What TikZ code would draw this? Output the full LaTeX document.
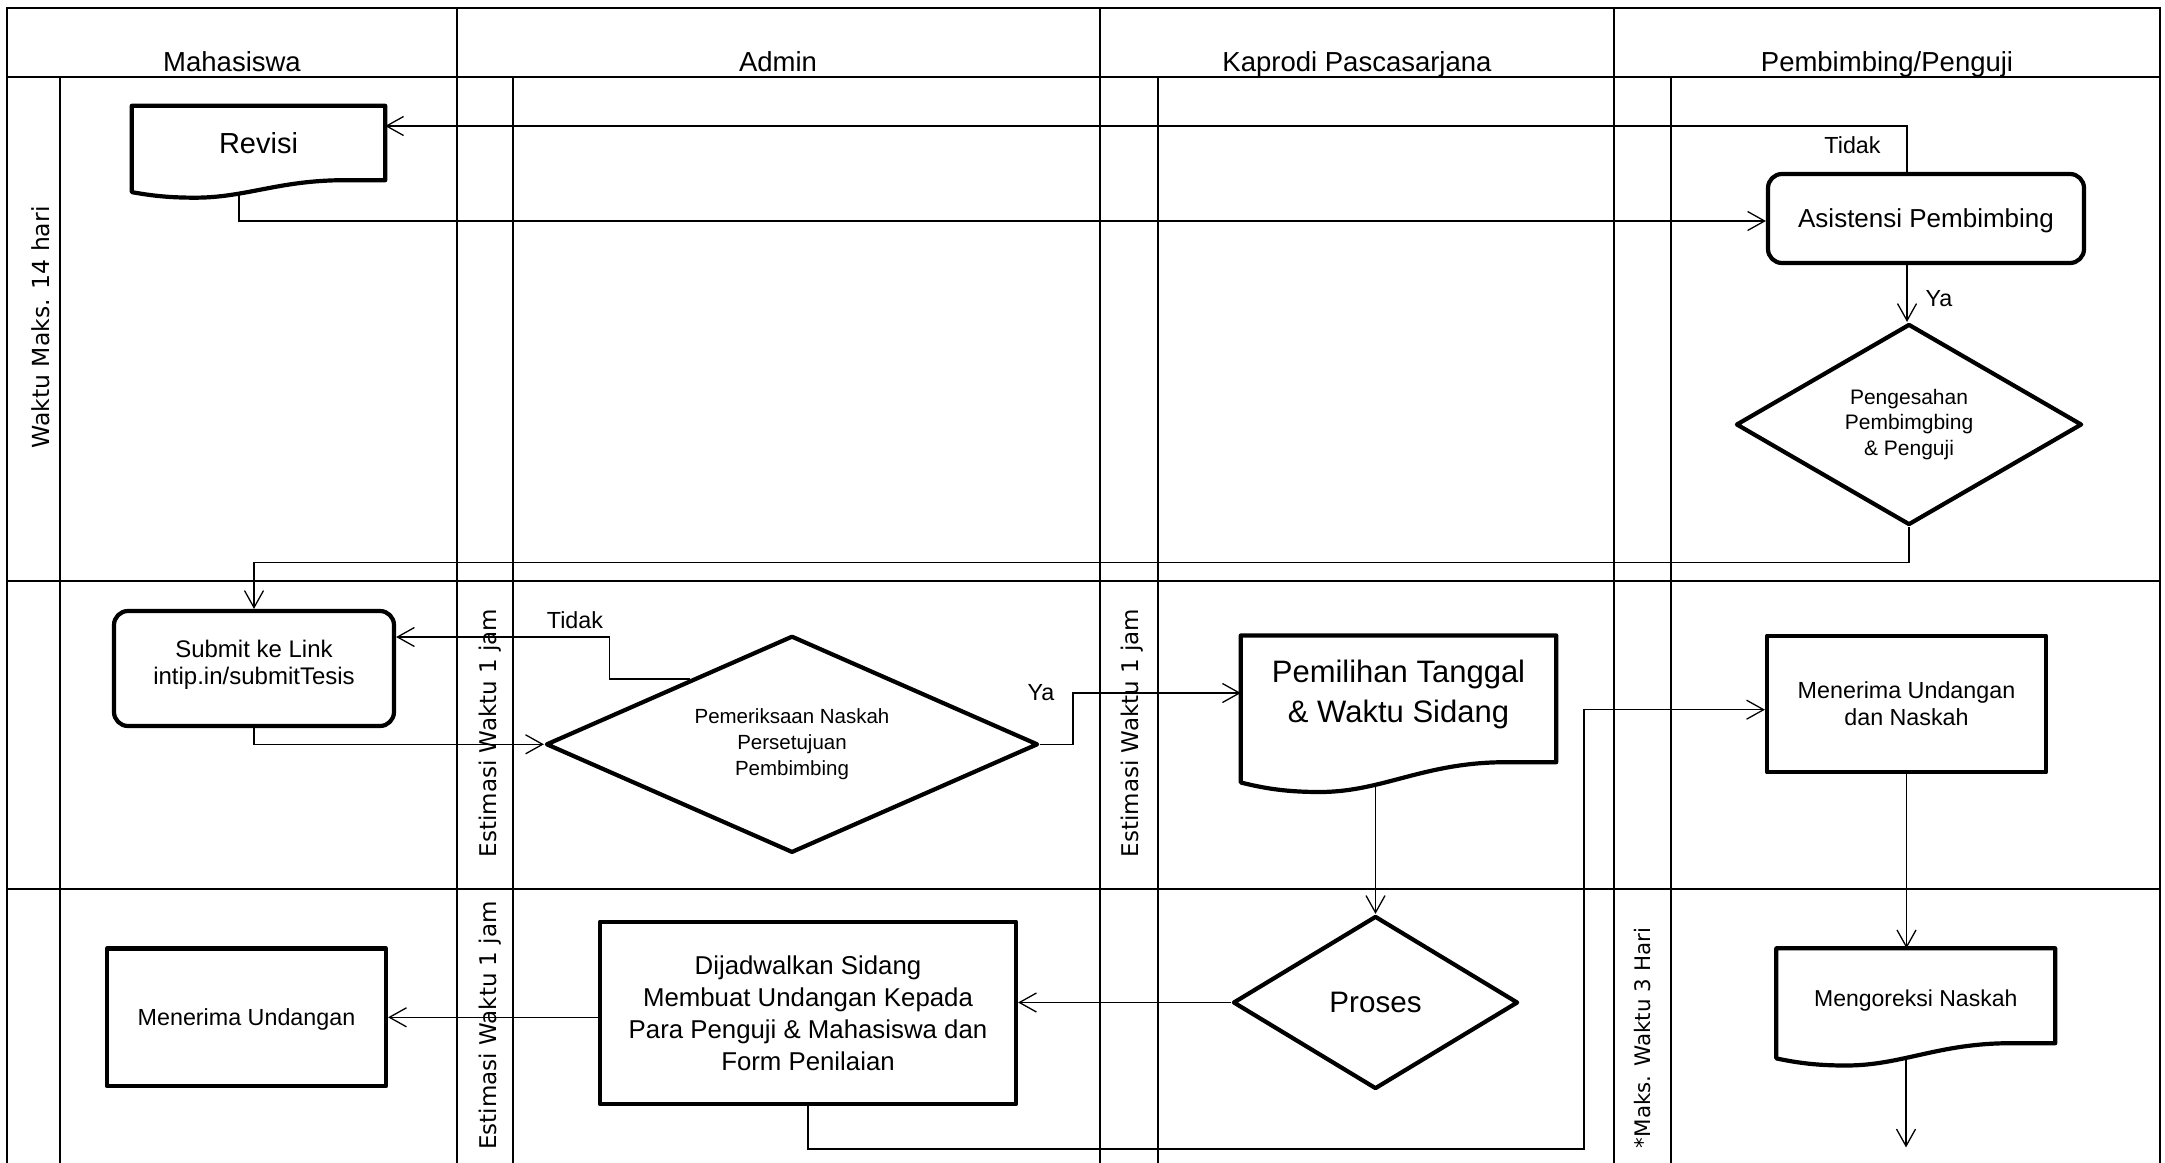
\documentclass[tikz,border=0pt]{standalone}
\usepackage{fontspec}
\setmainfont{Liberation Sans}
\newfontfamily\vfont{DejaVu Sans}
\usetikzlibrary{arrows.meta,shapes.geometric,calc}
\pgfdeclarelayer{bg}
\pgfdeclarelayer{mid}
\pgfsetlayers{bg,mid,main}
\newcommand\fsz[2]{\fontsize{#1pt}{#2pt}\selectfont}
\newcommand\docoutline[1]{%
  \draw[docline] let \p1=(#1.north west), \p2=(#1.south east), \n1={\x2-\x1}, \n2={\y1-\y2} in
  (\x2,\y2) -- (\x2,\y1) -- (\x1,\y1) -- (\x1,{\y2-0.16*\n2})
  .. controls ({\x1+0.08*\n1},{\y2-0.21*\n2}) and ({\x1+0.15*\n1},{\y2-0.235*\n2}) .. ({\x1+0.25*\n1},{\y2-0.235*\n2})
  .. controls ({\x1+0.45*\n1},{\y2-0.235*\n2}) and ({\x1+0.58*\n1},{\y2}) .. ({\x1+0.84*\n1},{\y2}) -- cycle;}
\begin{document}
\begin{tikzpicture}[x=1pt,y=-1pt,
  grid/.style={line width=2pt, line cap=rect},
  conn/.style={line width=1.3pt, -{Straight Barb[length=17pt,width=19pt]}},
  box/.style={draw, line width=4.2pt, fill=white, line join=round, inner sep=0pt, align=center},
  rbox/.style={box, rounded corners=14pt},
  dbox/.style={box, diamond},
  docbox/.style={inner sep=0pt, align=center},
  docline/.style={draw, line width=4.2pt, fill=white, line join=round},
  hdr/.style={inner sep=0pt, font={\fsz{27.5}{33}}},
  lbl/.style={inner sep=0pt, font={\fsz{23.3}{28}}},
  vtxt/.style={inner sep=0pt, rotate=90, font={\vfont\fsz{23}{28}}}
]
\useasboundingbox (0,0) rectangle (2165,1162);

% headers
\node[hdr, anchor=base] (hmah) at (232,71) {Mahasiswa};
\node[hdr, anchor=base] (hadm) at (778,71) {Admin};
\node[hdr, anchor=base] (hkap) at (1357,71) {Kaprodi Pascasarjana};
\node[hdr, anchor=base] (hpem) at (1887,71) {Pembimbing/Penguji};

% vertical texts
\node[vtxt, font={\vfont\fsz{23.5}{28}}] (w14) at (41,327.5) {Waktu Maks. 14 hari};
\node[vtxt] (est1) at (490,733) {Estimasi Waktu 1 jam};
\node[vtxt] (est2) at (1132.5,733) {Estimasi Waktu 1 jam};
\node[vtxt] (est3) at (490,1025.5) {Estimasi Waktu 1 jam};
\node[vtxt, font={\vfont\fsz{21.4}{26}}] (maks3) at (1642,1038) {*Maks. Waktu 3 Hari};

% shapes
\node[docbox, minimum width=253, minimum height=74, font={\fsz{29}{35}}] (revisi) at (258.5,143) {Revisi};
\node[rbox, minimum width=316, minimum height=89, text depth=0pt, font={\fsz{26}{31}}] (asist) at (1926,218.5) {Asistensi Pembimbing};
\node[dbox, aspect=1.72, minimum width=346, minimum height=201, font={\fsz{21}{25.8}}] (peng) at (1909,424.5) {Pengesahan\\Pembimgbing\\\& Penguji};
\node[rbox, minimum width=280, minimum height=115] (submit) at (254,668.5) {};
\node[inner sep=0pt, align=center, font={\fsz{24}{27.5}}] (submitt) at (254,665) {Submit ke Link\\intip.in/submitTesis};
\node[dbox, aspect=2.27, minimum width=492, minimum height=217, font={\fsz{20.5}{26}}] (pem) at (792,744.3) {Pemeriksaan Naskah\\Persetujuan\\Pembimbing};
\node[docbox, minimum width=315, minimum height=126.4] (pemil) at (1398.5,698.8) {};
\node[inner sep=0pt, align=center, font={\fsz{31}{40}}] (pemilt) at (1398.5,694) {Pemilihan Tanggal\\\& Waktu Sidang};
\node[box, minimum width=279, minimum height=136.7, font={\fsz{23.3}{27}}] (mun) at (1906.5,704) {Menerima Undangan\\dan Naskah};
\node[box, minimum width=279, minimum height=137.5, text depth=0pt, font={\fsz{23.3}{28}}] (mu) at (246.5,1017.3) {Menerima Undangan};
\node[box, minimum width=416, minimum height=182.4, font={\fsz{25.8}{32}}] (dij) at (808,1012.8) {Dijadwalkan Sidang\\Membuat Undangan Kepada\\Para Penguji \& Mahasiswa dan\\Form Penilaian};
\node[dbox, aspect=1.65, minimum width=285, minimum height=173, font={\fsz{29.6}{35}}] (proses) at (1375.5,1002.5) {Proses};
\node[docbox, minimum width=278.5, minimum height=94.5] (mengo) at (1915.75,995.75) {};
\node[inner sep=0pt, font={\fsz{23}{28}}] (mengot) at (1915.75,1001) {Mengoreksi Naskah};

% labels
\node[lbl] (tidak1) at (1852.5,145.4) {Tidak};
\node[lbl] (ya1) at (1939,298.5) {Ya};
\node[lbl] (tidak2) at (575,620) {Tidak};
\node[lbl] (ya2) at (1041,692.5) {Ya};

\begin{pgfonlayer}{mid}
\docoutline{revisi}
\docoutline{pemil}
\docoutline{mengo}
\end{pgfonlayer}

\begin{pgfonlayer}{bg}
% grid
\draw[grid] (7,7.5) -- (2160,7.5);
\draw[grid] (7,76.5) -- (2160,76.5);
\draw[grid] (7,580.5) -- (2160,580.5);
\draw[grid] (7,889) -- (2160,889);
\foreach \gx in {7,457,1099.5,1614,2160} \draw[grid] (\gx,7.5) -- (\gx,1170);
\foreach \gx in {60,513,1158,1671} \draw[grid] (\gx,76.5) -- (\gx,1170);
% connectors
\coordinate (c1) at (1909,562.6);
\coordinate (c3) at (1584,1149);
\coordinate (endpt) at (1906,1147.4);
\draw[conn] ([xshift=-19pt]asist.north) |- ([yshift=17pt]revisi.east);
\draw[conn] ([xshift=-19.5pt]revisi.south) |- ([yshift=-2.5pt]asist.west);
\draw[conn] ([xshift=-19pt]asist.south) -- ([xshift=-19pt]asist.south |- peng.north);
\draw[conn] (peng.south) -- (c1) -| (submit.north);
\draw[conn] ($(pem.west)!0.59!(pem.north)$) -- ++(-81,0) |- ([yshift=31.5pt]submit.east);
\draw[conn] (submit.south) |- (pem.west);
\draw[conn] (pem.east) -- ++(33,0) |- ([yshift=5.8pt]pemil.west);
\draw[conn] (pemil.south -| proses.north) -- (proses.north);
\draw[conn] (proses.west) -- (proses.west -| dij.east);
\draw[conn] (dij.west |- mu.east) -- (mu.east);
\draw[conn] (dij.south) |- (c3) |- ([yshift=-5.7pt]mun.west);
\draw[conn] (mun.south) -- (mun.south |- mengo.north);
\draw[conn] (mengo.south -| endpt) -- (endpt);
\end{pgfonlayer}
\end{tikzpicture}
\end{document}
